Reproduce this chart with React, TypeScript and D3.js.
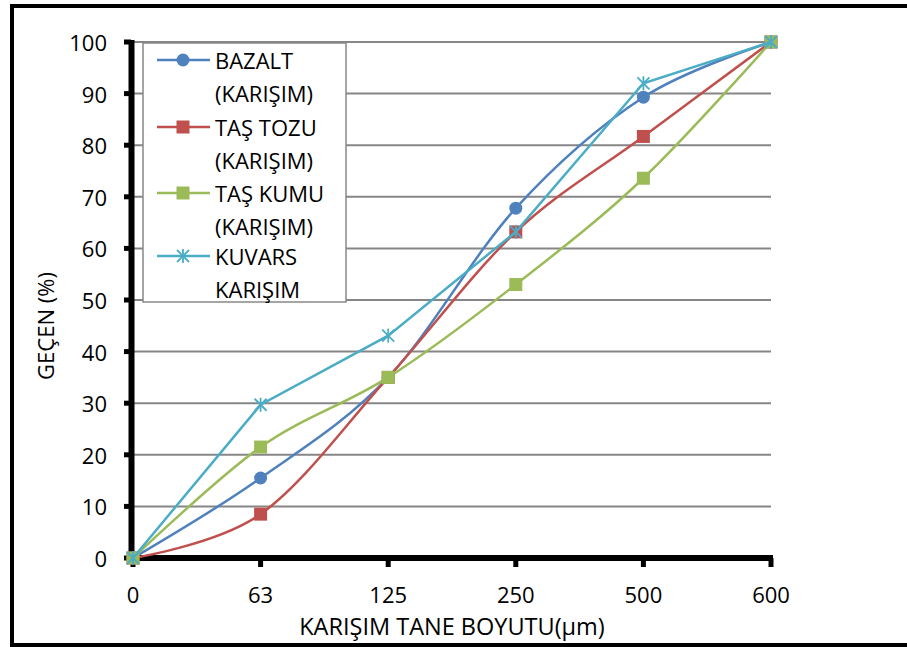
import React from "react";
import * as d3 from "d3";

// Particle size categories (µm) and cumulative passing percentages
const sizes = ["0", "63", "125", "250", "500", "600"];
const bazalt = [0, 15.5, 35, 67.8, 89.3, 100];
const tasTozu = [0, 8.5, 35, 63.2, 81.7, 100];
const tasKumu = [0, 21.5, 35, 53, 73.6, 100];
const kuvars = [0, 29.7, 43.1, 63.2, 92, 100];
const yTicks = [0, 10, 20, 30, 40, 50, 60, 70, 80, 90, 100];

type Marker = "circle" | "square" | "star";
interface Series {
  lines: string[];
  values: number[];
  color: string;
  marker: Marker;
  smooth: boolean;
}

const series: Series[] = [
  { lines: ["BAZALT", "(KARIŞIM)"], values: bazalt, color: "#4F81BD", marker: "circle", smooth: true },
  { lines: ["TAŞ TOZU", "(KARIŞIM)"], values: tasTozu, color: "#C0504D", marker: "square", smooth: true },
  { lines: ["TAŞ KUMU", "(KARIŞIM)"], values: tasKumu, color: "#9BBB59", marker: "square", smooth: true },
  { lines: ["KUVARS", "KARIŞIM"], values: kuvars, color: "#4BACC6", marker: "star", smooth: false },
];

const W = 907;
const H = 647;
const FONT = "'Open Sans', sans-serif";
const FS = 22;

function MarkerShape({ kind, x, y, color }: { kind: Marker; x: number; y: number; color: string }) {
  if (kind === "circle") return <circle cx={x} cy={y} r={6.5} fill={color} />;
  if (kind === "square") return <rect x={x - 6.5} y={y - 6.5} width={13} height={13} fill={color} />;
  const s = 6;
  return (
    <g stroke={color} strokeWidth={1.8}>
      <line x1={x - s} y1={y - s} x2={x + s} y2={y + s} />
      <line x1={x - s} y1={y + s} x2={x + s} y2={y - s} />
      <line x1={x} y1={y - s - 1} x2={x} y2={y + s + 1} />
    </g>
  );
}

export default function App() {
  const x = d3.scalePoint<string>().domain(sizes).range([133, 771]);
  const y = d3.scaleLinear().domain([0, 100]).range([558, 42]);
  const makeLine = (smooth: boolean) =>
    d3
      .line<number>()
      .x((_, i) => x(sizes[i]) as number)
      .y((v) => y(v))
      .curve(smooth ? d3.curveCardinal.tension(0) : d3.curveLinear);

  const legendRows = [60, 127, 193, 256];

  return (
    <svg width={W} height={H} style={{ position: "absolute", left: 0, top: 0 }} fontFamily={FONT}>
      <rect x={0} y={0} width={W} height={H} fill="#fff" />
      <rect x={12} y={6} width={900} height={639} fill="none" stroke="#000" strokeWidth={4} />

      {/* horizontal gridlines */}
      {yTicks.slice(1).map((t) => (
        <line key={t} x1={133} x2={771} y1={y(t)} y2={y(t)} stroke="#868686" strokeWidth={2} />
      ))}

      {/* axes */}
      <line x1={131.5} x2={131.5} y1={y(100) - 2} y2={y(0) + 3} stroke="#000" strokeWidth={6} />
      <line x1={128.5} x2={773} y1={y(0)} y2={y(0)} stroke="#000" strokeWidth={6} />
      {yTicks.map((t) => (
        <g key={t}>
          <line x1={124} x2={131} y1={y(t)} y2={y(t)} stroke="#000" strokeWidth={5} />
          <text x={107} y={y(t)} textAnchor="end" dominantBaseline="central" fontSize={FS} fill="#000">
            {t}
          </text>
        </g>
      ))}
      {sizes.map((s) => (
        <g key={s}>
          <line x1={x(s)} x2={x(s)} y1={y(0)} y2={567} stroke="#000" strokeWidth={5} />
          <text x={x(s)} y={594} textAnchor="middle" dominantBaseline="central" fontSize={FS} fill="#000">
            {s}
          </text>
        </g>
      ))}

      {/* axis titles */}
      <text x={452} y={626} textAnchor="middle" dominantBaseline="central" fontSize={23.5} fill="#000">
        KARIŞIM TANE BOYUTU(µm)
      </text>
      <text
        transform="translate(45,326) rotate(-90)"
        textAnchor="middle"
        dominantBaseline="central"
        fontSize={FS}
        fill="#000"
      >
        GEÇEN (%)
      </text>

      {/* data series */}
      {series.map((s) => (
        <g key={s.lines[0]}>
          <path d={makeLine(s.smooth)(s.values) ?? ""} fill="none" stroke={s.color} strokeWidth={2.5} />
          {s.values.map((v, i) => (
            <MarkerShape key={i} kind={s.marker} x={x(sizes[i]) as number} y={y(v)} color={s.color} />
          ))}
        </g>
      ))}

      {/* legend */}
      <rect x={143} y={43} width={203} height={259} fill="#fff" stroke="#888" strokeWidth={1.5} />
      {series.map((s, i) => {
        const ry = legendRows[i];
        return (
          <g key={s.lines[0]}>
            <line x1={157} x2={210} y1={ry} y2={ry} stroke={s.color} strokeWidth={2.5} />
            <MarkerShape kind={s.marker} x={183} y={ry} color={s.color} />
            {s.lines.map((t, j) => (
              <text key={j} x={215} y={ry + j * 33} dominantBaseline="central" fontSize={FS} fill="#000">
                {t}
              </text>
            ))}
          </g>
        );
      })}
    </svg>
  );
}
